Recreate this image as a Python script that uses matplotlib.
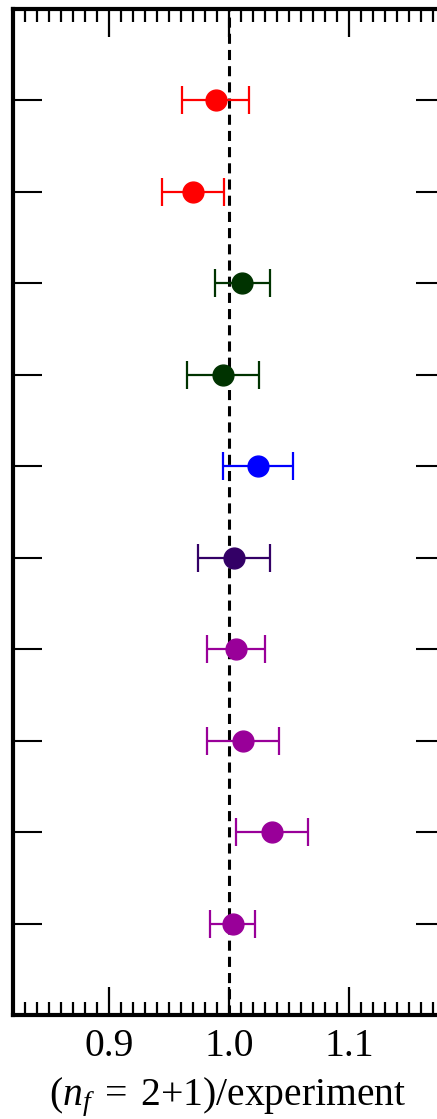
import numpy as np
import matplotlib
matplotlib.use("Agg")
import matplotlib.pyplot as plt

# ratio lattice (n_f = 2+1) / experiment, top to bottom
ratio = [0.989, 0.970, 1.011, 0.995, 1.024, 1.004, 1.006, 1.012, 1.036, 1.003]
err = [0.028, 0.0255, 0.023, 0.030, 0.029, 0.030, 0.024, 0.030, 0.030, 0.019]
colors = ["#ff0000", "#ff0000", "#003300", "#003300", "#0000ff",
          "#330066", "#990099", "#990099", "#990099", "#990099"]
xticks = [0.9, 1.0, 1.1]
xticklabels = ["0.9", "1.0", "1.1"]

plt.rcParams['mathtext.fontset'] = 'custom'
plt.rcParams['mathtext.rm'] = 'Liberation Serif'
plt.rcParams['mathtext.it'] = 'Liberation Serif:italic'
plt.rcParams['font.family'] = ['Liberation Serif', 'DejaVu Serif']

fig = plt.figure(figsize=(4.37, 11.19), dpi=100)
ax = fig.add_axes([13 / 437, 104 / 1119, 432 / 437, 1006 / 1119])

n = len(ratio)
ypos = np.arange(n, 0, -1)

ax.axvline(1.0, color="black", lw=2.2, linestyle=(0, (3.3, 2.0)), zorder=1)

for i in range(n):
    ax.errorbar(ratio[i], ypos[i], xerr=err[i], fmt="o", color=colors[i],
                ms=15, elinewidth=1.6, capsize=10, capthick=1.6, zorder=3)

ax.set_xlim(0.82, 1.18)
ax.set_ylim(0, n + 1)

ax.set_xticks(xticks)
ax.set_xticklabels(xticklabels)
ax.set_xticks(np.arange(0.83, 1.18, 0.01), minor=True)
ax.set_yticks(ypos)
ax.set_yticklabels([])

ax.tick_params(axis="x", which="major", direction="in", top=True, bottom=True,
               length=20, width=1.6, labelsize=28.5, pad=9)
ax.tick_params(axis="x", which="minor", direction="in", top=True, bottom=True,
               length=9.5, width=1.6)
ax.tick_params(axis="y", which="major", direction="in", left=True, right=True,
               length=21, width=1.5)

for sp in ax.spines.values():
    sp.set_linewidth(3.0)

ax.set_xlabel(r"$(\mathit{n}_{\mathit{f}}\;=\;2{+}1)/\mathrm{experiment}$", fontsize=28.5)
ax.xaxis.set_label_coords((228 - 13) / 432, -0.060)

fig.savefig("out.png", dpi=100)
